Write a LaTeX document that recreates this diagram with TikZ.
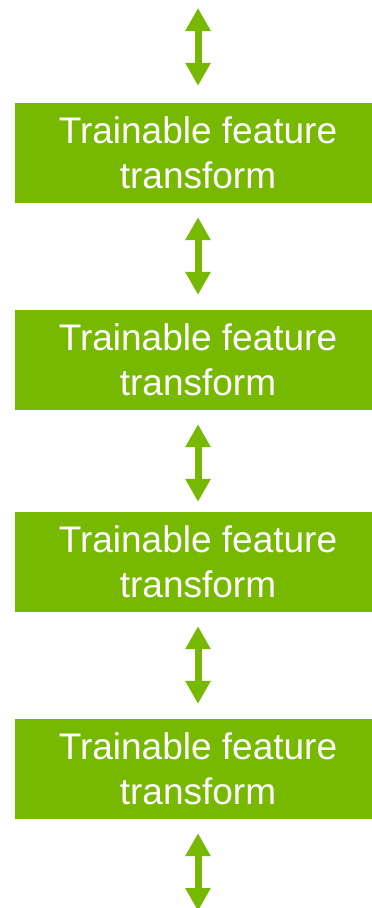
\documentclass[tikz,border=0pt]{standalone}
\usepackage{fontspec}
\setmainfont{Liberation Sans}
\usetikzlibrary{arrows.meta}
\definecolor{nvgreen}{HTML}{76B900}
\begin{document}
\begin{tikzpicture}[x=1pt,y=1pt,
  tbox/.style={rectangle, fill=nvgreen, draw=none, minimum width=366pt, minimum height=100pt,
    inner sep=0pt, text=white, align=center,
    font=\fontsize{37}{44.5}\selectfont},
  dbl/.style={draw=nvgreen, line width=7pt,
    {Triangle[width=24pt,length=23pt]}-{Triangle[width=24pt,length=23pt]}}]
\useasboundingbox (0,0) rectangle (372,-908);
\node[tbox] (b1) at (198,-153) {Trainable feature\\transform};
\node[tbox] (b2) at (198,-360) {Trainable feature\\transform};
\node[tbox] (b3) at (198,-562) {Trainable feature\\transform};
\node[tbox] (b4) at (198,-769) {Trainable feature\\transform};
\coordinate (top) at (198,-8);
\coordinate (bot) at (198,-911);
\draw[dbl] (top) -- ([yshift=17pt]b1.north);
\draw[dbl] ([yshift=-14pt]b1.south) -- ([yshift=15pt]b2.north);
\draw[dbl] ([yshift=-14pt]b2.south) -- ([yshift=10pt]b3.north);
\draw[dbl] ([yshift=-14pt]b3.south) -- ([yshift=15pt]b4.north);
\draw[dbl] ([yshift=-14pt]b4.south) -- (bot);
\end{tikzpicture}
\end{document}
